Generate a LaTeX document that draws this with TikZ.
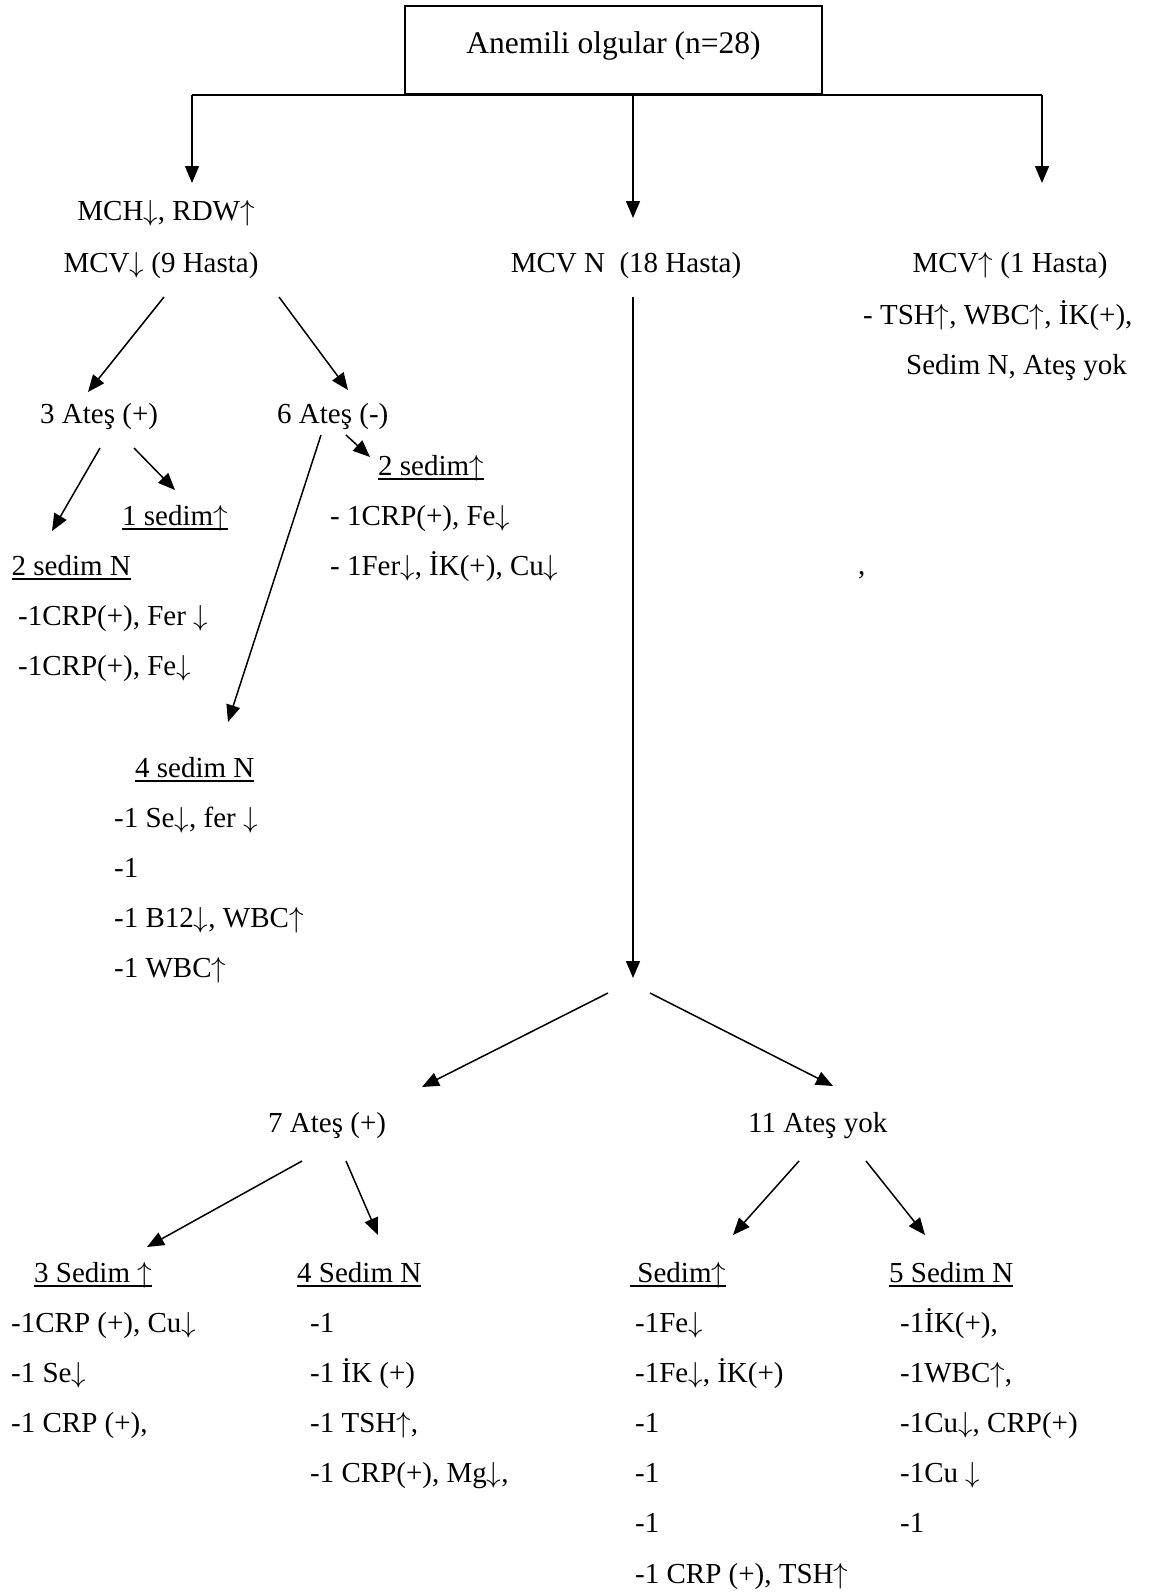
\RequirePackage{fix-cm}
\documentclass[tikz,border=0pt]{standalone}
\usepackage{fontspec}
\setmainfont{Liberation Serif}
\usetikzlibrary{arrows.meta}
\usetikzlibrary{calc}
\newsavebox\ulsave
\newcommand{\ulin}[1]{\sbox\ulsave{#1}\rlap{\rule[-5pt]{\wd\ulsave}{1.8pt}}\usebox\ulsave}
\newcommand{\upa}{$\uparrow$}
\newcommand{\dna}{$\downarrow$}
\tikzset{
  every node/.style={inner sep=0, font=\fontsize{29pt}{50.2pt}\selectfont},
  txt/.style={anchor=base},
  lft/.style={anchor=base west, align=left},
  rootbox/.style={draw, line width=1.6pt, anchor=base, minimum width=417pt,
    text height=48pt, text depth=40pt, font=\fontsize{31.5pt}{36pt}\selectfont},
  arrow/.style={-{Triangle[length=17pt,width=14pt]}, line width=1.5pt}
}
\begin{document}
\begin{tikzpicture}[x=1pt, y=-1pt]
\useasboundingbox (0,0) rectangle (1153,1595);

\node[rootbox] (root) at (613.5,54) {Anemili olgular (n=28)};

\node[txt] (mchrdw) at (166,220) {MCH\dna, RDW\upa};
\node[txt] (mcvd) at (161,272) {MCV\dna{} (9 Hasta)};
\node[txt] (mcvn) at (626,272) {MCV N\ \ (18 Hasta)};
\node[txt] (mcvu) at (1010,272) {MCV\upa{} (1 Hasta)};
\node[lft] (tshinfo) at (863,324) {- TSH\upa, WBC\upa, İK(+),};
\node[lft] (sedimyok) at (906,374) {Sedim N, Ateş yok};
\node[lft] (comma) at (858,574) {,};

\node[lft] (ates3) at (40,423) {3 Ateş (+)};
\node[lft] (ates6) at (277,423) {6 Ateş (-)};
\node[lft] (sed2u) at (378,475) {\ulin{2 sedim\upa}};
\node[lft] (sed1u) at (122,525) {\ulin{1 sedim\upa}};
\node[lft] (sed2n) at (11.5,575) {\ulin{2 sedim N}};
\node[lft] (lista) at (18,675.2) {-1CRP(+), Fer \dna\\-1CRP(+), Fe\dna};
\node[lft] (listb) at (330,575.2) {- 1CRP(+), Fe\dna\\- 1Fer\dna, İK(+), Cu\dna};
\node[lft] (sed4n) at (135,777) {\ulin{4 sedim N}};
\node[lft] (listc) at (114,977.6) {-1 Se\dna, fer \dna\\-1\\-1 B12\dna, WBC\upa\\-1 WBC\upa};

\node[lft] (ates7) at (268,1132) {7 Ateş (+)};
\node[lft] (ates11) at (748,1132) {11 Ateş yok};
\node[lft] (s3u) at (34,1282) {\ulin{3 Sedim \upa}};
\node[lft] (s4n) at (297,1282) {\ulin{4 Sedim N}};
\node[lft] (su) at (630,1282) {\ulin{\ Sedim\upa}};
\node[lft] (s5n) at (889,1282) {\ulin{5 Sedim N}};
\node[lft] (listd) at (11,1432.4) {-1CRP (+), Cu\dna\\-1 Se\dna\\-1 CRP (+),};
\node[lft] (liste) at (310,1482.6) {-1\\-1 İK (+)\\-1 TSH\upa,\\-1 CRP(+), Mg\dna,};
\node[lft] (listf) at (635,1583) {-1Fe\dna\\-1Fe\dna, İK(+)\\-1\\-1\\-1\\-1 CRP (+), TSH\upa};
\node[lft] (listg) at (900,1532.8) {-1İK(+),\\-1WBC\upa,\\-1Cu\dna, CRP(+)\\-1Cu \dna\\-1};

\coordinate (tL) at ([shift={(26,-37)}]mchrdw.base);
\coordinate (tM) at ([shift={(7,-54)}]mcvn.base);
\coordinate (tR) at ([shift={(32,-89)}]mcvu.base);
\coordinate (split) at ([shift={(7,706)}]mcvn.base);

\draw[line width=1.8pt] (root.south -| tL) -- (root.south -| tR);
\draw[arrow] (root.south -| tL) -- (tL);
\draw[arrow] (root.south -| tM) -- (tM);
\draw[arrow] (root.south -| tR) -- (tR);

\draw[arrow] ([shift={(3,25)}]mcvd.base) -- ([shift={(48,-31)}]ates3.base west);
\draw[arrow] ([shift={(118,25)}]mcvd.base) -- ([shift={(71,-33)}]ates6.base west);
\draw[arrow] ([shift={(60,25)}]ates3.base west) -- ([shift={(40.5,-44)}]sed2n.base west);
\draw[arrow] ([shift={(94,25)}]ates3.base west) -- ([shift={(53,-35)}]sed1u.base west);
\draw[arrow] ([shift={(44,12)}]ates6.base west) -- ([shift={(93,-55)}]sed4n.base west);
\draw[arrow] ([shift={(69,12)}]ates6.base west) -- ([shift={(-8,-18)}]sed2u.base west);

\draw[arrow] ([shift={(7,25)}]mcvn.base) -- (split);
\draw[arrow] ([shift={(-25,15)}]split) -- ([shift={(154,-45)}]ates7.base west);
\draw[arrow] ([shift={(17,15)}]split) -- ([shift={(85,-46)}]ates11.base west);

\draw[arrow] ([shift={(34,29)}]ates7.base west) -- ([shift={(113,-35)}]s3u.base west);
\draw[arrow] ([shift={(78,29)}]ates7.base west) -- ([shift={(81,-47)}]s4n.base west);
\draw[arrow] ([shift={(51,29)}]ates11.base west) -- ([shift={(103,-47)}]su.base west);
\draw[arrow] ([shift={(118,29)}]ates11.base west) -- ([shift={(36,-47)}]s5n.base west);
\end{tikzpicture}
\end{document}
